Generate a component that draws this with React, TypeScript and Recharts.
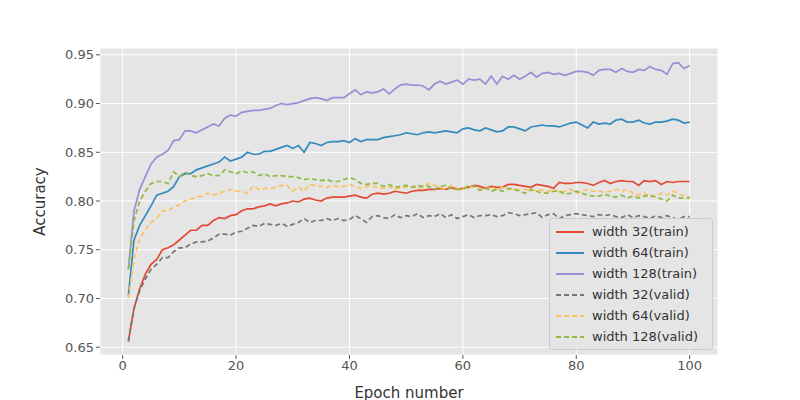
import React from "react";
import { LineChart, Line, XAxis, YAxis, CartesianGrid } from "recharts";

const w32train = [0.656,0.69,0.71,0.725,0.735,0.74,0.75,0.752,0.755,0.76,0.765,0.77,0.77,0.775,0.775,0.78,0.783,0.782,0.785,0.786,0.79,0.792,0.792,0.794,0.795,0.797,0.795,0.797,0.798,0.8,0.799,0.802,0.803,0.801,0.8,0.803,0.804,0.804,0.804,0.805,0.806,0.804,0.803,0.807,0.808,0.807,0.808,0.81,0.809,0.808,0.81,0.811,0.811,0.812,0.812,0.813,0.812,0.814,0.812,0.813,0.814,0.816,0.815,0.813,0.815,0.814,0.814,0.817,0.817,0.816,0.815,0.814,0.817,0.816,0.815,0.813,0.819,0.818,0.818,0.819,0.819,0.818,0.816,0.819,0.821,0.818,0.82,0.821,0.82,0.82,0.816,0.821,0.82,0.821,0.817,0.82,0.819,0.82,0.82,0.82];
const w64train = [0.703,0.76,0.775,0.785,0.795,0.806,0.808,0.81,0.815,0.825,0.828,0.828,0.832,0.834,0.836,0.838,0.84,0.845,0.841,0.843,0.845,0.85,0.848,0.848,0.851,0.851,0.853,0.855,0.857,0.854,0.857,0.85,0.86,0.859,0.857,0.86,0.861,0.861,0.862,0.86,0.864,0.861,0.863,0.863,0.863,0.865,0.866,0.867,0.868,0.87,0.869,0.868,0.87,0.871,0.87,0.871,0.872,0.871,0.87,0.874,0.875,0.873,0.872,0.875,0.873,0.871,0.872,0.876,0.876,0.874,0.872,0.876,0.877,0.878,0.877,0.877,0.876,0.878,0.88,0.881,0.878,0.875,0.881,0.879,0.88,0.879,0.883,0.884,0.881,0.881,0.883,0.88,0.879,0.881,0.881,0.882,0.884,0.883,0.88,0.881];
const w128train = [0.73,0.79,0.812,0.825,0.838,0.845,0.848,0.852,0.862,0.863,0.872,0.872,0.87,0.873,0.876,0.879,0.877,0.885,0.888,0.887,0.891,0.892,0.893,0.893,0.894,0.895,0.898,0.9,0.899,0.9,0.901,0.903,0.905,0.906,0.905,0.903,0.906,0.906,0.906,0.91,0.914,0.909,0.912,0.911,0.912,0.915,0.91,0.915,0.919,0.92,0.919,0.919,0.918,0.914,0.92,0.923,0.92,0.922,0.924,0.92,0.925,0.924,0.925,0.92,0.928,0.92,0.928,0.925,0.929,0.925,0.928,0.932,0.927,0.931,0.932,0.93,0.931,0.929,0.931,0.933,0.933,0.932,0.929,0.934,0.935,0.935,0.932,0.936,0.933,0.932,0.935,0.934,0.938,0.935,0.934,0.93,0.941,0.942,0.936,0.939];
const w32valid = [0.656,0.69,0.708,0.72,0.73,0.735,0.742,0.742,0.748,0.752,0.752,0.756,0.758,0.758,0.759,0.762,0.766,0.766,0.765,0.768,0.769,0.772,0.775,0.774,0.777,0.776,0.775,0.777,0.774,0.776,0.778,0.782,0.778,0.78,0.78,0.782,0.78,0.782,0.78,0.781,0.785,0.782,0.778,0.784,0.785,0.783,0.782,0.786,0.783,0.785,0.784,0.787,0.783,0.785,0.784,0.787,0.783,0.786,0.782,0.784,0.786,0.783,0.785,0.785,0.786,0.784,0.785,0.788,0.787,0.785,0.786,0.787,0.788,0.783,0.786,0.787,0.782,0.785,0.786,0.787,0.786,0.785,0.784,0.786,0.785,0.786,0.784,0.783,0.786,0.783,0.785,0.784,0.782,0.785,0.783,0.785,0.783,0.781,0.784,0.784];
const w64valid = [0.70,0.74,0.762,0.77,0.778,0.782,0.79,0.79,0.794,0.796,0.8,0.802,0.804,0.805,0.808,0.806,0.808,0.81,0.812,0.81,0.81,0.808,0.815,0.812,0.813,0.813,0.814,0.816,0.816,0.81,0.814,0.81,0.817,0.816,0.815,0.814,0.816,0.815,0.815,0.817,0.815,0.813,0.815,0.815,0.814,0.813,0.815,0.812,0.814,0.814,0.815,0.813,0.814,0.818,0.816,0.814,0.812,0.816,0.813,0.812,0.814,0.815,0.812,0.812,0.814,0.812,0.814,0.812,0.813,0.811,0.812,0.81,0.812,0.811,0.81,0.812,0.809,0.81,0.812,0.808,0.81,0.812,0.81,0.81,0.809,0.81,0.812,0.81,0.812,0.808,0.806,0.808,0.804,0.805,0.808,0.806,0.81,0.808,0.805,0.804];
const w128valid = [0.73,0.78,0.8,0.81,0.818,0.82,0.82,0.818,0.83,0.825,0.83,0.826,0.825,0.826,0.828,0.826,0.826,0.832,0.83,0.828,0.831,0.829,0.83,0.826,0.828,0.825,0.826,0.826,0.825,0.825,0.824,0.822,0.823,0.822,0.821,0.822,0.82,0.82,0.822,0.824,0.822,0.818,0.817,0.818,0.818,0.815,0.817,0.814,0.815,0.816,0.814,0.816,0.815,0.815,0.812,0.815,0.816,0.813,0.812,0.812,0.816,0.815,0.811,0.814,0.81,0.812,0.81,0.813,0.812,0.81,0.808,0.812,0.81,0.808,0.808,0.81,0.81,0.807,0.808,0.81,0.808,0.806,0.805,0.805,0.807,0.805,0.804,0.806,0.803,0.805,0.803,0.805,0.806,0.804,0.802,0.8,0.806,0.803,0.803,0.803];

const xTicks = [0, 20, 40, 60, 80, 100];
const yTicks = [0.65, 0.7, 0.75, 0.8, 0.85, 0.9, 0.95];

const series = [
  { key: "w32t", name: "width 32(train)", data: w32train, color: "#E24A33", dash: undefined },
  { key: "w64t", name: "width 64(train)", data: w64train, color: "#348ABD", dash: undefined },
  { key: "w128t", name: "width 128(train)", data: w128train, color: "#988ED5", dash: undefined },
  { key: "w32v", name: "width 32(valid)", data: w32valid, color: "#777777", dash: "5 3" },
  { key: "w64v", name: "width 64(valid)", data: w64valid, color: "#FBC15E", dash: "5 3" },
  { key: "w128v", name: "width 128(valid)", data: w128valid, color: "#8EBA42", dash: "5 3" },
];

const n = Math.max(...series.map((s) => s.data.length));
const rows = Array.from({ length: n }, (_, i) => {
  const r: any = { epoch: i + 1 };
  series.forEach((s) => (r[s.key] = s.data[i]));
  return r;
});

const LegendBox = () => (
  <div style={{ position: "absolute", left: 549, top: 218, width: 164, boxSizing: "border-box", background: "#E5E5E5", border: "1px solid #cccccc", borderRadius: 3, padding: "2px 6px", fontFamily: "DejaVu Sans", fontSize: 13, color: "#333" }}>
    {series.map((s) => (
      <div key={s.key} style={{ display: "flex", alignItems: "center", height: 21 }}>
        <svg width={28} height={10} style={{ marginRight: 8 }}>
          <line x1={0} y1={5} x2={28} y2={5} stroke={s.color} strokeWidth={2} strokeDasharray={s.dash} />
        </svg>
        {s.name}
      </div>
    ))}
  </div>
);

export default function App() {
  const tick = { fill: "#555555", fontSize: 13, fontFamily: "DejaVu Sans" };
  return (
    <div style={{ position: "absolute", left: 0, top: 0, width: 800, height: 400, background: "#fff" }}>
      <LineChart width={800} height={400} data={rows} margin={{ top: 48, right: 82, bottom: 0, left: 40 }}>
        <CartesianGrid fill="#E5E5E5" stroke="#ffffff" strokeWidth={1} />
        <XAxis dataKey="epoch" type="number" domain={[-4, 105]} ticks={xTicks} height={45} tick={tick}
          stroke="#555555" axisLine={false} tickSize={4}
          label={{ value: "Epoch number", position: "insideBottom", offset: 2, fill: "#333", fontSize: 15, fontFamily: "DejaVu Sans" }} />
        <YAxis type="number" domain={[0.642, 0.957]} ticks={yTicks} width={60} tick={tick} stroke="#555555" axisLine={false} tickSize={4}
          tickFormatter={(v: number) => v.toFixed(2)}
          label={{ value: "Accuracy", angle: -90, position: "insideLeft", offset: 0, fill: "#333", fontSize: 15, fontFamily: "DejaVu Sans", style: { textAnchor: "middle" } }} />
        {series.map((s) => (
          <Line key={s.key} dataKey={s.key} name={s.name} stroke={s.color} strokeWidth={1.7} strokeDasharray={s.dash}
            dot={false} isAnimationActive={false} />
        ))}
      </LineChart>
      <LegendBox />
    </div>
  );
}
